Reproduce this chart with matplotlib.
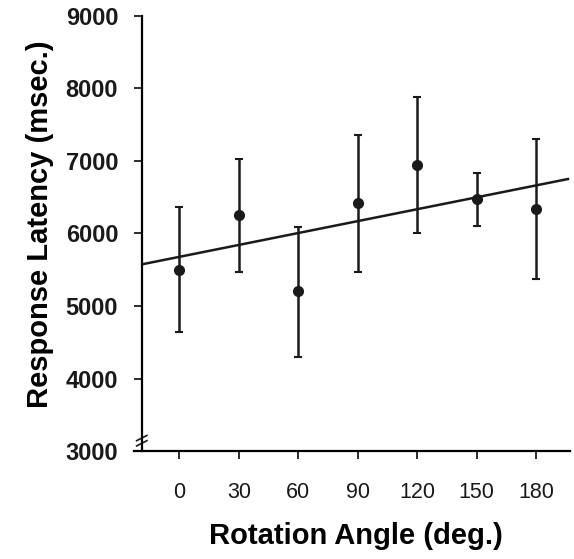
import matplotlib.pyplot as plt
import numpy as np

plt.rcParams['font.family'] = ['Liberation Sans', 'DejaVu Sans']

angles = [0, 30, 60, 90, 120, 150, 180]
latency = [5500, 6250, 5205, 6415, 6940, 6475, 6335]
err_top = [6370, 7025, 6090, 7355, 7875, 6835, 7295]
err_bot = [4640, 5470, 4300, 5470, 6010, 6100, 5365]

# fitted regression line
fit_x = [-19, 196]
fit_intercept = 5677
fit_slope = 5.47

fig = plt.figure(figsize=(5.74, 5.59), dpi=100)
ax = fig.add_axes([0.247, 0.193, 0.746, 0.779])

lat = np.array(latency)
yerr = [lat - np.array(err_bot), np.array(err_top) - lat]
ax.errorbar(angles, latency, yerr=yerr, fmt='o', color='#1a1a1a', ms=7,
            elinewidth=1.8, capsize=3, capthick=1.5)
fx = np.array(fit_x)
ax.plot(fx, fit_intercept + fit_slope * fx, color='#1a1a1a', lw=1.8)

ax.set_xlim(-19, 197)
ax.set_ylim(3000, 9000)
ax.set_xticks(angles)
ax.set_yticks(range(3000, 9001, 1000))
ax.spines['top'].set_visible(False)
ax.spines['right'].set_visible(False)
for s in ['left', 'bottom']:
    ax.spines[s].set_linewidth(1.6)
ax.spines['bottom'].set_bounds(-23, 197)

ax.tick_params(axis='both', direction='out', length=6, width=1.3, colors='#1a1a1a')
ax.tick_params(axis='y', pad=11, labelsize=17)
ax.tick_params(axis='x', pad=16, labelsize=15.5)
for lbl in ax.get_yticklabels():
    lbl.set_fontweight('bold')

ax.set_xlabel('Rotation Angle (deg.)', fontsize=21, fontweight='bold', labelpad=14)
ax.set_ylabel('Response Latency (msec.)', fontsize=21, fontweight='bold', labelpad=8,
              y=0.52)

# axis break marks on the y axis
for dy in (0.018, 0.030):
    ax.plot([-0.012, 0.012], [dy - 0.006, dy + 0.006], transform=ax.transAxes,
            color='#1a1a1a', lw=1.2, clip_on=False)

fig.savefig('out.png', dpi=100)
